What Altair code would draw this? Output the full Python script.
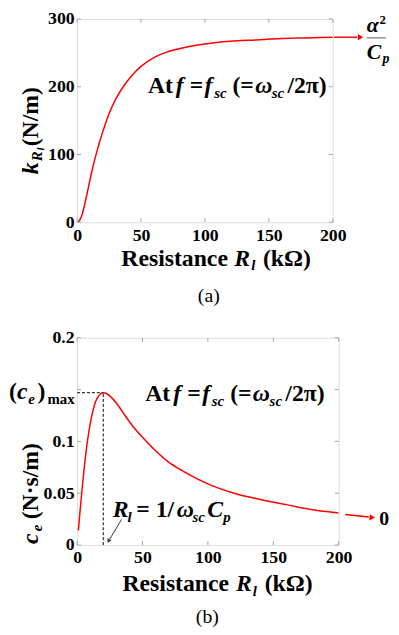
import altair as alt
import pandas as pd

FONT = "Liberation Serif"
RED = "#ff0000"
GRAY = "#a6a6a6"

# ---------------- data ----------------
x_ticks = [0, 50, 100, 150, 200]

# panel (a): k_Rl vs R_l
R_a = [0, 1, 2, 3, 4, 5, 6, 8, 10, 12, 14, 16, 18, 20, 25, 30, 35, 40, 45, 50,
       60, 70, 80, 90, 100, 120, 140, 160, 180, 200]
k_a = [0, 0.8, 3, 7, 12, 19, 27, 44, 62, 79, 94, 108, 121, 133, 160, 181, 197, 210, 221, 230,
       243, 251, 256, 260, 263, 267, 269, 271, 272, 273]
ya_ticks = [0, 100, 200, 300]

# panel (b): c_e vs R_l
R_b = [1, 2, 3, 4, 6, 8, 10, 12, 14, 16, 18, 20, 22, 25, 30, 35, 40, 45, 50,
       60, 70, 80, 90, 100, 120, 140, 160, 180, 200]
c_b = [0.014, 0.029, 0.043, 0.056, 0.081, 0.101, 0.117, 0.129, 0.138, 0.143, 0.146, 0.147, 0.1465,
       0.144, 0.137, 0.128, 0.119, 0.111, 0.104, 0.091, 0.080, 0.072, 0.065, 0.059, 0.050, 0.044,
       0.039, 0.034, 0.031]
yb_ticks = [0, 0.05, 0.1, 0.15, 0.2]
yb_labels = [0, 0.05, 0.1, 0.2]
R_peak = 20
c_max = 0.147

WA, HA = 259, 206
WB, HB = 265, 210


def axis_x():
    return alt.Axis(values=x_ticks, ticks=False, domain=False, grid=False, title=None,
                    labelFont=FONT, labelFontWeight="bold", labelFontSize=18, labelColor="black",
                    labelPadding=4, labelFlush=False, labelOverlap=False)


def axis_y(vals, fmt):
    return alt.Axis(values=vals, ticks=False, domain=False, grid=False, title=None, format=fmt,
                    labelFont=FONT, labelFontWeight="bold", labelFontSize=18, labelColor="black",
                    labelPadding=3, labelFlush=False, labelOverlap=False)


class P:
    def __init__(self, xs, ys, ax, ay, W, H):
        self.xs, self.ys, self.ax, self.ay, self.W, self.H = xs, ys, ax, ay, W, H

    def X(self, f):
        return alt.X(f, scale=self.xs, axis=self.ax)

    def Y(self, f):
        return alt.Y(f, scale=self.ys, axis=self.ay)


def rich(p, segs, angle=0, align="left", baseline="alphabetic", weight="bold"):
    layers = []
    for it in (False, True):
        rows = [s for s in segs if s[4] == it]
        if not rows:
            continue
        df = pd.DataFrame(rows, columns=["t", "x", "y", "s", "it"])
        layers.append(
            alt.Chart(df).mark_text(font=FONT, fontWeight=weight,
                                    fontStyle="italic" if it else "normal",
                                    align=align, baseline=baseline, angle=angle, color="black")
            .encode(x=p.X("x:Q"), y=p.Y("y:Q"), text="t:N",
                    size=alt.Size("s:Q", scale=None))
        )
    return layers


def frame_ticks(p, xt, yt, L=4):
    dx = pd.DataFrame({"v": xt})
    dy = pd.DataFrame({"v": yt})
    W, H = p.W, p.H
    return [
        alt.Chart(dx).mark_rule(color=GRAY).encode(x=p.X("v:Q"), y=alt.value(H), y2=alt.value(H - L)),
        alt.Chart(dx).mark_rule(color=GRAY).encode(x=p.X("v:Q"), y=alt.value(0), y2=alt.value(L)),
        alt.Chart(dy).mark_rule(color=GRAY).encode(y=p.Y("v:Q"), x=alt.value(0), x2=alt.value(L)),
        alt.Chart(dy).mark_rule(color=GRAY).encode(y=p.Y("v:Q"), x=alt.value(W), x2=alt.value(W - L)),
    ]


def seg_rule(p, df, color, width=1, dash=None):
    kw = dict(color=color, strokeWidth=width)
    if dash:
        kw["strokeDash"] = dash
    enc = dict(x=p.X("x:Q"), y=p.Y("y:Q"))
    if "x2" in df:
        enc["x2"] = "x2:Q"
    if "y2" in df:
        enc["y2"] = "y2:Q"
    return alt.Chart(df).mark_rule(**kw).encode(**enc)


def head(p, x, y, ang, color, size):
    return alt.Chart(pd.DataFrame({"x": [x], "y": [y]})).mark_point(
        shape="triangle", filled=True, size=size, angle=ang, color=color, opacity=1, strokeWidth=0
    ).encode(x=p.X("x:Q"), y=p.Y("y:Q"))


# ---------------- panel (a) ----------------
pa = P(alt.Scale(domain=[0, 200], nice=False, zero=False),
       alt.Scale(domain=[0, 300], nice=False, zero=False),
       axis_x(), axis_y(ya_ticks, "d"), WA, HA)

curve_a = alt.Chart(pd.DataFrame({"R": R_a, "k": k_a})).mark_line(
    color=RED, strokeWidth=1.5, interpolate="monotone", clip=True
).encode(x=pa.X("R:Q"), y=pa.Y("k:Q"))

layers_a = [curve_a] + frame_ticks(pa, x_ticks, ya_ticks)
layers_a.append(seg_rule(pa, pd.DataFrame({"x": [201], "x2": [219], "y": [273]}), RED, 1.5))
layers_a.append(head(pa, 221, 273, 90, RED, 40))
layers_a.append(seg_rule(pa, pd.DataFrame({"x": [226.5], "x2": [241.5], "y": [272]}), "#555555", 1))

at_a = [("At", 55.4, 191, 24, False), ("f", 77.2, 191, 24, True), ("=", 88.2, 191, 24, False),
        ("f", 99.7, 191, 24, True), ("sc", 107.2, 184, 15, True), ("(=", 121.5, 191, 24, False),
        ("ω", 139.3, 191, 24, True), ("sc", 152.3, 184, 15, True), ("/2π)", 164.5, 191, 24, False)]
frac_a = [("α", 226.5, 280, 22, True), ("2", 236.5, 293, 13, False),
          ("C", 226.5, 241, 22, True), ("p", 239, 235, 14, True)]
xt_a = [("Resistance", 34.6, -64, 24, False), ("R", 123, -64, 24, True),
        ("l", 136.2, -71, 15, True), ("(kΩ)", 145.4, -64, 24, False)]
yt_a = [("k", -30.8, 71, 24, True), ("R", -27.7, 90, 15, True),
        ("l", -26.2, 106, 11, True), ("(N/m)", -30.8, 112, 24, False)]

layers_a += rich(pa, at_a + frac_a + xt_a)
layers_a += rich(pa, yt_a, angle=270)
layers_a += rich(pa, [("(a)", 103, -117, 20, False)], align="center", weight="normal")

panel_a = alt.layer(*layers_a).properties(width=WA, height=HA)

# ---------------- panel (b) ----------------
pb = P(alt.Scale(domain=[0, 200], nice=False, zero=False),
       alt.Scale(domain=[0, 0.2], nice=False, zero=False),
       axis_x(), axis_y(yb_labels, "~g"), WB, HB)

curve_b = alt.Chart(pd.DataFrame({"R": R_b, "c": c_b})).mark_line(
    color=RED, strokeWidth=1.5, interpolate="monotone", clip=True
).encode(x=pb.X("R:Q"), y=pb.Y("c:Q"))

layers_b = [curve_b] + frame_ticks(pb, x_ticks, yb_ticks)
layers_b.append(seg_rule(pb, pd.DataFrame({"x": [0], "x2": [R_peak], "y": [c_max]}), "black", 1, [3, 2]))
layers_b.append(seg_rule(pb, pd.DataFrame({"x": [R_peak], "y": [0], "y2": [c_max]}), "black", 1, [3, 2]))
layers_b.append(seg_rule(pb, pd.DataFrame({"x": [205], "x2": [223], "y": [0.0295], "y2": [0.027]}), RED, 1.5))
layers_b.append(head(pb, 225, 0.0266, 96, RED, 40))
layers_b.append(seg_rule(pb, pd.DataFrame({"x": [34], "x2": [25], "y": [0.0248], "y2": [0.0058]}), "#333333", 1))
layers_b.append(head(pb, 24.3, 0.0045, 212, "#333333", 22))

at_b = [("At", 52.1, 0.139, 24, False), ("f", 73.5, 0.139, 24, True), ("=", 84.3, 0.139, 24, False),
        ("f", 95.6, 0.139, 24, True), ("sc", 102.9, 0.1343, 15, True), ("(=", 117, 0.139, 24, False),
        ("ω", 134.3, 0.139, 24, True), ("sc", 147.2, 0.1343, 15, True), ("/2π)", 159.2, 0.139, 24, False)]
rl_b = [("R", 27.2, 0.0267, 24, True), ("l", 38.5, 0.0219, 15, True), ("= 1/", 45.3, 0.0267, 24, False),
        ("ω", 76.2, 0.0267, 24, True), ("sc", 88.3, 0.0219, 15, True), ("C", 99.6, 0.0267, 24, True),
        ("p", 111.7, 0.0219, 15, True)]
cmax_b = [("(", -52.1, 0.141, 24, False), ("c", -46, 0.141, 24, True), ("e", -37.4, 0.136, 15, True),
          (")", -30.2, 0.141, 24, False), ("max", -22.6, 0.136, 15, False)]
zero_b = [("0", 231, 0.0195, 20, False)]
xt_b = [("Resistance", 34.7, -0.044, 24, False), ("R", 121.5, -0.044, 24, True),
        ("l", 134.3, -0.0488, 15, True), ("(kΩ)", 143.4, -0.044, 24, False)]
yt_b = [("c", -30.2, 0.001, 24, True), ("e", -27.2, 0.0133, 15, True),
        ("(N·s/m)", -30.2, 0.0248, 24, False)]

layers_b += rich(pb, at_b + rl_b + cmax_b + zero_b + xt_b)
layers_b += rich(pb, yt_b, angle=270)
layers_b += rich(pb, [("(b)", 99.6, -0.075, 20, False)], align="center", weight="normal")

panel_b = alt.layer(*layers_b).properties(width=WB, height=HB)

chart = alt.vconcat(panel_a, panel_b, spacing=22).properties(
    padding={"left": 0, "top": -3, "right": 0, "bottom": 0}
).configure_view(stroke=GRAY, strokeWidth=1).configure(background="white")

chart.save("out.html", embed_options={"renderer": "svg", "actions": False})
